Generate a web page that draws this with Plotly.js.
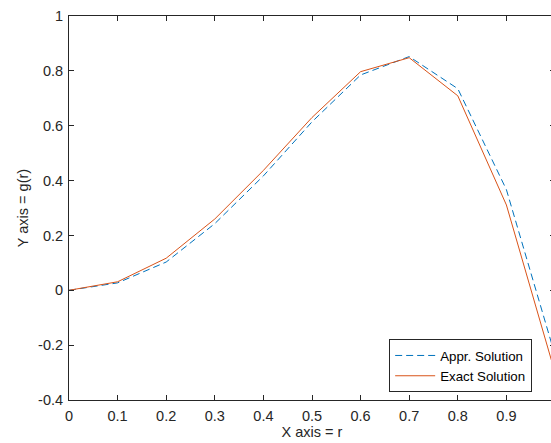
<!DOCTYPE html>
<html>
<head>
<meta charset="utf-8">
<script src="https://cdn.plot.ly/plotly-3.0.1.min.js"></script>
<style>
html,body{margin:0;padding:0;overflow:hidden;background:#fff;}
#chart{width:560px;height:443px;}
</style>
</head>
<body>
<div id="chart"></div>
<script>
const r = [0, 0.1, 0.2, 0.3, 0.4, 0.5, 0.6, 0.7, 0.8, 0.9, 1.0];
const apprSolution = [0, 0.027, 0.103, 0.243, 0.417, 0.614, 0.785, 0.852, 0.735, 0.367, -0.236];
const exactSolution = [0, 0.031, 0.117, 0.26, 0.437, 0.63, 0.797, 0.848, 0.709, 0.311, -0.30];
const xTickVals = [0, 0.1, 0.2, 0.3, 0.4, 0.5, 0.6, 0.7, 0.8, 0.9, 1];
const xTickText = ['0', '0.1', '0.2', '0.3', '0.4', '0.5', '0.6', '0.7', '0.8', '0.9', ''];
const yTickVals = [-0.4, -0.2, 0, 0.2, 0.4, 0.6, 0.8, 1];
const yTickText = ['-0.4', '-0.2', '0', '0.2', '0.4', '0.6', '0.8', '1'];

const axisColor = '#262626';
const fam = '"Liberation Sans", Arial, sans-serif';

const traces = [
  {x: r, y: apprSolution, type: 'scatter', mode: 'lines', name: 'Appr. Solution',
   line: {color: '#0072BD', width: 1, dash: '7px,4px'}},
  {x: r, y: exactSolution, type: 'scatter', mode: 'lines', name: 'Exact Solution',
   line: {color: '#D95319', width: 1}}
];

const layout = {
  width: 560, height: 443,
  margin: {l: 69, r: 5, t: 16, b: 43},
  paper_bgcolor: '#fff', plot_bgcolor: '#fff',
  font: {family: fam, size: 14.5, color: axisColor},
  showlegend: true,
  legend: {x: 0.953, y: 0.02, xanchor: 'right', yanchor: 'bottom',
           bgcolor: '#fff', bordercolor: axisColor, borderwidth: 1, itemwidth: 40,
           font: {family: fam, size: 13.3, color: '#000'}, tracegroupgap: 0},
  xaxis: {range: [0, 1], tickvals: xTickVals, ticktext: xTickText,
          ticks: 'inside', ticklen: 5, tickcolor: axisColor, mirror: 'ticks',
          showline: true, linecolor: axisColor, linewidth: 1, showgrid: false, zeroline: false,
          ticklabelstandoff: 3,
          title: {text: 'X axis = r', font: {family: fam, size: 14.5, color: axisColor}, standoff: 3},
          tickfont: {family: fam, size: 14.5, color: axisColor}},
  yaxis: {range: [-0.4, 1], tickvals: yTickVals, ticktext: yTickText,
          ticks: 'inside', ticklen: 5, tickcolor: axisColor, mirror: 'ticks',
          showline: true, linecolor: axisColor, linewidth: 1, showgrid: false, zeroline: false,
          ticklabelstandoff: 2,
          title: {text: 'Y axis = g(r)', font: {family: fam, size: 14.5, color: axisColor}, standoff: 6},
          tickfont: {family: fam, size: 14.5, color: axisColor}}
};

Plotly.newPlot('chart', traces, layout, {displayModeBar: false, staticPlot: true});
</script>
</body>
</html>
